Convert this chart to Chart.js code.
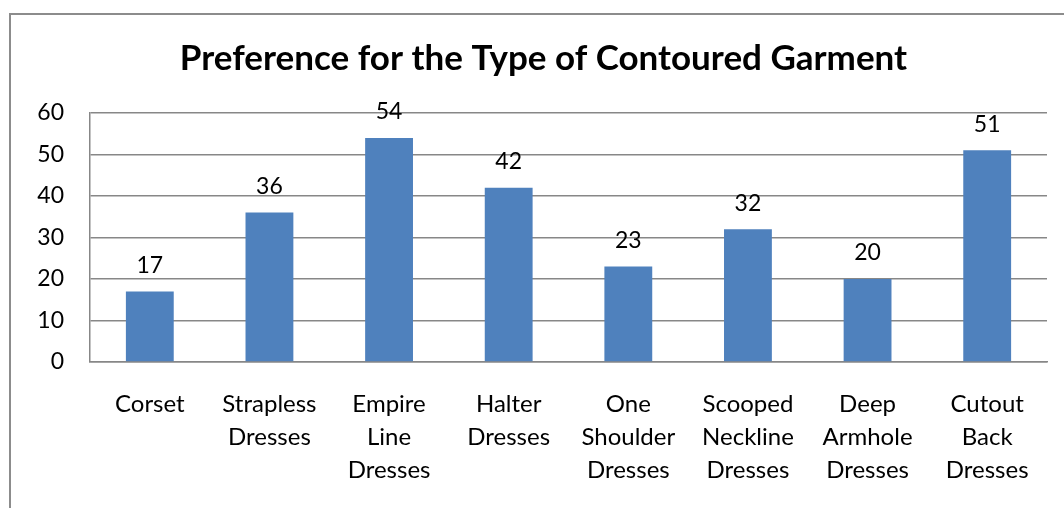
<!DOCTYPE html>
<html>
<head>
<meta charset="utf-8">
<script src="https://cdn.jsdelivr.net/npm/chart.js@4/dist/chart.umd.min.js"></script>
<style>
  html, body { margin: 0; padding: 0; background: #fff; }
  #wrap { width: 1064px; height: 508px; position: relative; }
</style>
</head>
<body>
<div id="wrap"><canvas id="chart" width="1064" height="508"></canvas></div>
<script>
// data
const categories = [
  ["Corset"],
  ["Strapless", "Dresses"],
  ["Empire", "Line", "Dresses"],
  ["Halter", "Dresses"],
  ["One", "Shoulder", "Dresses"],
  ["Scooped", "Neckline", "Dresses"],
  ["Deep", "Armhole", "Dresses"],
  ["Cutout", "Back", "Dresses"]
];
const values = [17, 36, 54, 42, 23, 32, 20, 51];
const yTicks = [0, 10, 20, 30, 40, 50, 60];

const FONT = "Lato, 'Open Sans', sans-serif";
const GRID = "#878787";

// outer chart frame (only top and left edges are inside the picture)
const framePlugin = {
  id: "frame",
  beforeDraw(chart) {
    const c = chart.ctx;
    c.save();
    c.strokeStyle = "#8c8c8c";
    c.lineWidth = 2;
    c.beginPath();
    c.moveTo(10, 508);
    c.lineTo(10, 14);
    c.lineTo(1064, 14);
    c.stroke();
    c.restore();
  }
};

// the frame runs past the right edge, so the title sits a bit right of the canvas centre
const titleShift = {
  id: "titleShift",
  afterLayout(chart) {
    const t = chart.titleBlock;
    if (t) { t.left += 13; t.right += 13; }
  }
};

// value labels above the bars
const valueLabels = {
  id: "valueLabels",
  afterDatasetsDraw(chart) {
    const c = chart.ctx;
    const meta = chart.getDatasetMeta(0);
    c.save();
    c.font = "23px " + FONT;
    c.fillStyle = "#000";
    c.textAlign = "center";
    c.textBaseline = "middle";
    meta.data.forEach((bar, i) => {
      c.fillText(String(values[i]), bar.x, bar.y - 26);
    });
    c.restore();
  }
};

new Chart(document.getElementById("chart"), {
  type: "bar",
  data: {
    labels: categories,
    datasets: [{
      data: values,
      backgroundColor: "#4f81bd",
      borderWidth: 0,
      categoryPercentage: 1,
      barPercentage: 0.4
    }]
  },
  options: {
    responsive: false,
    animation: false,
    layout: { padding: { left: 14, right: 17, top: 0, bottom: 0 } },
    plugins: {
      legend: { display: false },
      tooltip: { enabled: false },
      title: {
        display: true,
        text: "Preference for the Type of Contoured Garment",
        color: "#000",
        font: { family: FONT, size: 35, weight: "bold" },
        padding: { top: 38, bottom: 33 }
      }
    },
    scales: {
      x: {
        grid: { display: false, drawTicks: false },
        border: { display: true, color: GRID, width: 1.5 },
        ticks: {
          color: "#000",
          font: { family: FONT, size: 24, lineHeight: 1.375 },
          padding: 26,
          maxRotation: 0,
          autoSkip: false
        },
        afterFit(scale) { scale.height = 146; }
      },
      y: {
        min: 0,
        max: 60,
        afterBuildTicks(scale) { scale.ticks = yTicks.map(v => ({ value: v })); },
        grid: { color: GRID, lineWidth: 1.5, drawTicks: false },
        border: { display: true, color: GRID, width: 1.5 },
        ticks: {
          color: "#000",
          font: { family: FONT, size: 23 },
          padding: 26
        },
        afterFit(scale) { scale.width = 76; }
      }
    }
  },
  plugins: [framePlugin, titleShift, valueLabels]
});
</script>
</body>
</html>
